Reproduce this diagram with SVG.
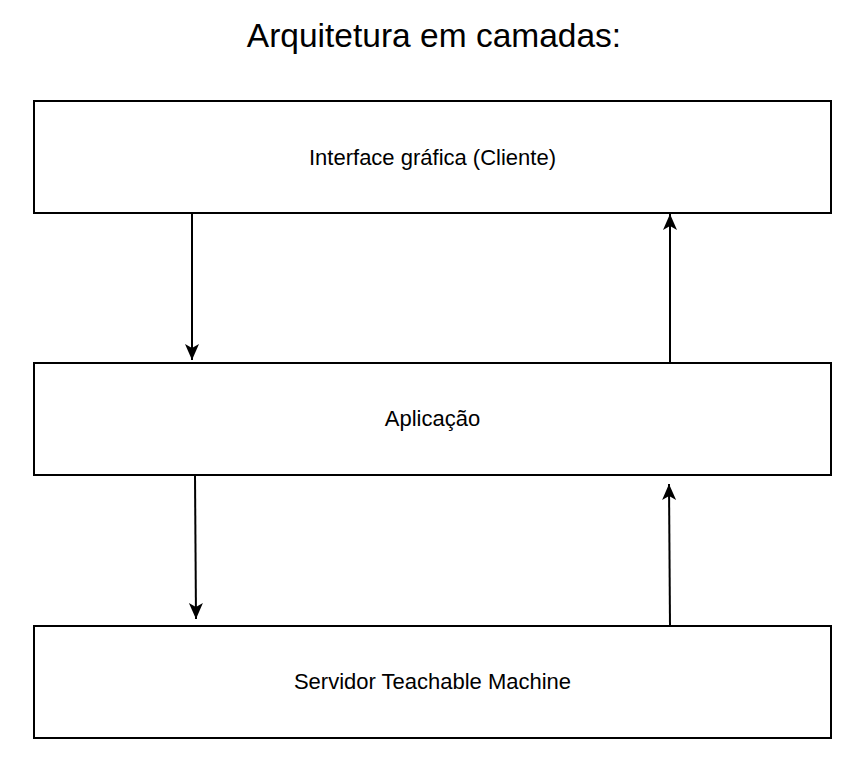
<svg xmlns="http://www.w3.org/2000/svg" width="867" height="768" viewBox="0 0 867 768">
  <style>
    .box { fill: #ffffff; stroke: #000000; stroke-width: 2; }
    .lbl { font-family: "Liberation Sans", Arial, sans-serif; font-size: 22px; fill: #000000; text-anchor: middle; }
    .title { font-family: "Liberation Sans", Arial, sans-serif; font-size: 33.5px; fill: #000000; text-anchor: middle; }
    .edge { fill: none; stroke: #000000; stroke-width: 2; }
  </style>
  <defs>
    <marker id="arrow" viewBox="-17 -8 18 16" refX="0" refY="0" markerWidth="18" markerHeight="16" markerUnits="userSpaceOnUse" orient="auto">
      <path d="M0,0 L-16,-7 L-12,0 L-16,7 Z" fill="#000000" stroke="none"/>
    </marker>
  </defs>
  <rect width="867" height="768" fill="#ffffff"/>
  <text class="title" x="434" y="47">Arquitetura em camadas:</text>
  <g id="node-cliente">
    <rect class="box" x="34" y="101" width="797" height="112"/>
    <text class="lbl" x="432.5" y="165">Interface gráfica (Cliente)</text>
  </g>
  <g id="node-aplicacao">
    <rect class="box" x="34" y="363" width="797" height="112"/>
    <text class="lbl" x="432.5" y="426">Aplicação</text>
  </g>
  <g id="node-servidor">
    <rect class="box" x="34" y="626" width="797" height="112"/>
    <text class="lbl" x="432.5" y="689">Servidor Teachable Machine</text>
  </g>
  <g id="connectors">
    <path class="edge" d="M192,213 L192,360" marker-end="url(#arrow)"/>
    <path class="edge" d="M670,363 L670,214" marker-end="url(#arrow)"/>
    <path class="edge" d="M195,475 L196,619" marker-end="url(#arrow)"/>
    <path class="edge" d="M670,626 L669,484" marker-end="url(#arrow)"/>
  </g>
</svg>
